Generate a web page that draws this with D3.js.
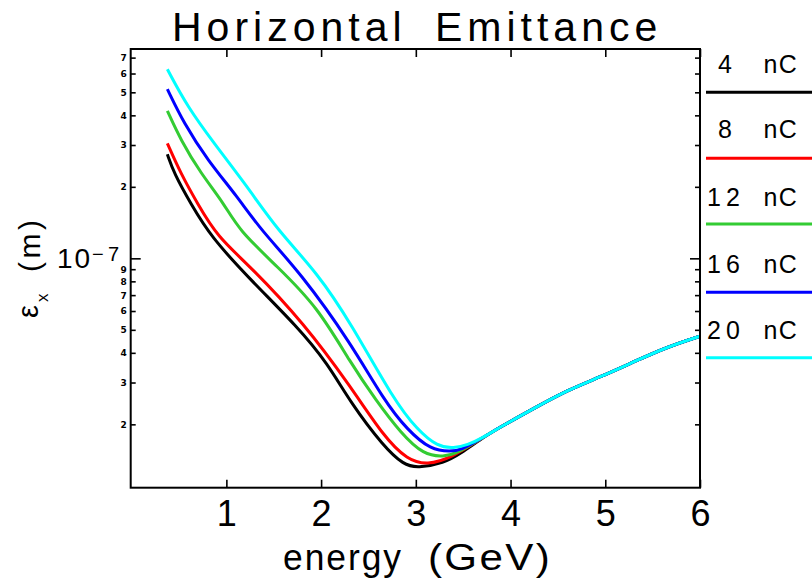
<!DOCTYPE html>
<html>
<head>
<meta charset="utf-8">
<script src="https://cdn.jsdelivr.net/npm/d3@7"></script>
<style>
  html, body { margin: 0; padding: 0; background: #fff; }
  svg { display: block; }
</style>
</head>
<body>
<svg id="chart" width="812" height="581"></svg>
<script>
// ---------------- data (emittance in metres, energy in GeV) ----------------
const seriesNames = ["4 nC", "8 nC", "12 nC", "16 nC", "20 nC"];
const seriesColors = ["#000000", "#ff0000", "#33cc33", "#0000ff", "#00ffff"];

const energy4nC  = [0.377, 0.447, 0.623, 0.835, 1.257, 1.75, 2.067, 2.313, 2.662, 2.873, 3.018, 3.296, 3.475];
const emit4nC    = [2.74e-7, 2.28e-7, 1.70e-7, 1.233e-7, 0.81e-7, 0.515e-7, 0.362e-7, 0.246e-7, 0.161e-7, 0.135e-7, 0.131e-7, 0.1375e-7, 0.151e-7];

const energy8nC  = [0.377, 0.518, 0.694, 0.905, 1.257, 1.817, 2.313, 2.662, 2.912, 3.123, 3.370];
const emit8nC    = [3.05e-7, 2.28e-7, 1.704e-7, 1.233e-7, 0.922e-7, 0.534e-7, 0.288e-7, 0.1774e-7, 0.1415e-7, 0.1349e-7, 0.1443e-7];

const energy12nC = [0.377, 0.518, 0.729, 0.975, 1.130, 1.539, 1.962, 2.313, 2.577, 2.841, 3.084, 3.296, 3.440];
const emit12nC   = [4.18e-7, 3.15e-7, 2.28e-7, 1.704e-7, 1.316e-7, 0.922e-7, 0.625e-7, 0.362e-7, 0.253e-7, 0.1838e-7, 0.1485e-7, 0.146e-7, 0.1514e-7];

const energy16nC = [0.377, 0.552, 0.800, 1.117, 1.363, 1.785, 2.313, 2.662, 2.912, 3.158, 3.370, 3.475];
const emit16nC   = [5.16e-7, 3.70e-7, 2.594e-7, 1.817e-7, 1.316e-7, 0.867e-7, 0.44e-7, 0.253e-7, 0.1892e-7, 0.156e-7, 0.1534e-7, 0.156e-7];

const energy20nC = [0.377, 0.588, 0.869, 1.222, 1.539, 1.962, 2.313, 2.768, 3.018, 3.229, 3.401, 3.546];
const emit20nC   = [6.25e-7, 4.35e-7, 3.05e-7, 2.002e-7, 1.316e-7, 0.867e-7, 0.534e-7, 0.253e-7, 0.1892e-7, 0.161e-7, 0.1585e-7, 0.1637e-7];

// shared high-energy branch (all charges coincide)
const tailEnergy = [3.70, 3.898, 4.246, 4.602, 4.954, 5.303, 5.659, 6.0];
const tailEmit   = [0.175e-7, 0.1954e-7, 0.2335e-7, 0.279e-7, 0.3173e-7, 0.367e-7, 0.4243e-7, 0.470e-7];

const xTicks = [1, 2, 3, 4, 5, 6];
const yMinorTicks = [2e-8, 3e-8, 4e-8, 5e-8, 6e-8, 7e-8, 8e-8, 9e-8, 2e-7, 3e-7, 4e-7, 5e-7, 6e-7, 7e-7];
const yMajorTicks = [1e-7];

const titleText = "Horizontal Emittance";
const xTitleWords = ["energy", "(GeV)"];

// ---------------- layout ----------------
const svg = d3.select("#chart");
const L = 130.7, R = 700, T = 49, B = 487.7;

const x = d3.scaleLinear().domain([-0.01, 6]).range([L, R]);
const y = d3.scaleLog().domain([1.082e-8, 7.61e-7]).range([B, T]);

const font = "'Liberation Sans', Arial, Helvetica, sans-serif";

// curves
const energies = [energy4nC, energy8nC, energy12nC, energy16nC, energy20nC];
const emits = [emit4nC, emit8nC, emit12nC, emit16nC, emit20nC];
const line = d3.line().x(d => x(d[0])).y(d => y(d[1])).curve(d3.curveBasis);

seriesNames.forEach((name, i) => {
  const pts = energies[i].map((e, j) => [e, emits[i][j]])
    .concat(tailEnergy.map((e, j) => [e, tailEmit[j]]));
  svg.append("path")
    .attr("d", line(pts))
    .attr("fill", "none")
    .attr("stroke", seriesColors[i])
    .attr("stroke-width", 3)
    .attr("stroke-linejoin", "round");
});

// axes
const axisStyle = g => {
  g.select(".domain").remove();
  g.selectAll(".tick line").attr("stroke", "#000").attr("stroke-width", 1.6);
};

svg.append("g").attr("transform", `translate(0,${B})`)
  .call(d3.axisBottom(x).tickValues(xTicks).tickSizeInner(-8).tickSizeOuter(0).tickPadding(13).tickFormat(d3.format("d")))
  .call(axisStyle)
  .call(g => g.selectAll("text").attr("font-family", font).attr("font-size", 36).attr("fill", "#000"));

svg.append("g").attr("transform", `translate(0,${T})`)
  .call(d3.axisTop(x).tickValues(xTicks).tickSizeInner(-8).tickSizeOuter(0).tickFormat(""))
  .call(axisStyle);

svg.append("g").attr("transform", `translate(${L},0)`)
  .call(d3.axisLeft(y).tickValues(yMinorTicks).tickSizeInner(-5).tickSizeOuter(0).tickPadding(4)
    .tickFormat(d => String(Math.round(d / Math.pow(10, Math.floor(Math.log10(d) + 1e-9))))))
  .call(axisStyle)
  .call(g => g.selectAll("text").attr("font-family", "'DejaVu Sans', sans-serif")
    .attr("font-weight", "bold").attr("font-size", 9).attr("fill", "#000"));

svg.append("g").attr("transform", `translate(${L},0)`)
  .call(d3.axisLeft(y).tickValues(yMajorTicks).tickSizeInner(-10).tickSizeOuter(0).tickFormat(""))
  .call(axisStyle);

svg.append("g").attr("transform", `translate(${R},0)`)
  .call(d3.axisRight(y).tickValues(yMinorTicks).tickSizeInner(-5).tickSizeOuter(0).tickFormat(""))
  .call(axisStyle);
svg.append("g").attr("transform", `translate(${R},0)`)
  .call(d3.axisRight(y).tickValues(yMajorTicks).tickSizeInner(-10).tickSizeOuter(0).tickFormat(""))
  .call(axisStyle);

// major label 10^-7
yMajorTicks.forEach(v => {
  svg.append("text").attr("x", 57).attr("y", y(v) + 10)
    .attr("font-family", font).attr("font-size", 28)
    .attr("textLength", 33).attr("lengthAdjust", "spacing")
    .text("10");
  svg.append("text").attr("x", 92).attr("y", y(v) + 3)
    .attr("font-family", font).attr("font-size", 20)
    .attr("textLength", 27).attr("lengthAdjust", "spacing")
    .text("\u22127");
});

// frame
svg.append("rect").attr("x", L).attr("y", T).attr("width", R - L).attr("height", B - T)
  .attr("fill", "none").attr("stroke", "#000").attr("stroke-width", 2);

// title
svg.append("text").attr("x", 172).attr("y", 41)
  .attr("font-family", font).attr("font-size", 41)
  .attr("letter-spacing", 5).attr("word-spacing", 12)
  .text(titleText);

// x title
const xTitleX = [283, 428], xTitleW = [120, 124];
xTitleWords.forEach((w, i) => {
  svg.append("text").attr("x", xTitleX[i]).attr("y", 570)
    .attr("font-family", font).attr("font-size", 36).attr("letter-spacing", 2)
    .attr("textLength", xTitleW[i]).attr("lengthAdjust", "spacingAndGlyphs")
    .text(w);
});

// y title: ε_x (m), rotated
svg.append("text").attr("transform", "translate(38,318) rotate(-90)")
  .attr("font-family", font).attr("font-size", 29).text("\u03b5");
svg.append("text").attr("transform", "translate(48,302) rotate(-90)")
  .attr("font-family", font).attr("font-size", 17).text("x");
svg.append("text").attr("transform", "translate(40,272) rotate(-90)")
  .attr("font-family", font).attr("font-size", 30)
  .attr("textLength", 52).attr("lengthAdjust", "spacing").text("(m)");

// legend: number part, then unit part at a fixed column
const legendTextY = [73, 138, 205.5, 273, 339];
const legendLineY = [92.3, 158.3, 224, 292.3, 357.7];
seriesNames.forEach((name, i) => {
  const parts = name.split(" ");
  const t = svg.append("text").attr("y", legendTextY[i])
    .attr("font-family", font).attr("font-size", 25);
  t.append("tspan").attr("x", parts[0].length > 1 ? 707 : 718)
    .attr("letter-spacing", parts[0].length > 1 ? 5 : 0).text(parts[0]);
  t.append("tspan").attr("x", 755).attr("letter-spacing", 1.5).text(" " + parts[1]);
  svg.append("line").attr("x1", 706).attr("x2", 812)
    .attr("y1", legendLineY[i]).attr("y2", legendLineY[i])
    .attr("stroke", seriesColors[i]).attr("stroke-width", 3);
});
</script>
</body>
</html>
